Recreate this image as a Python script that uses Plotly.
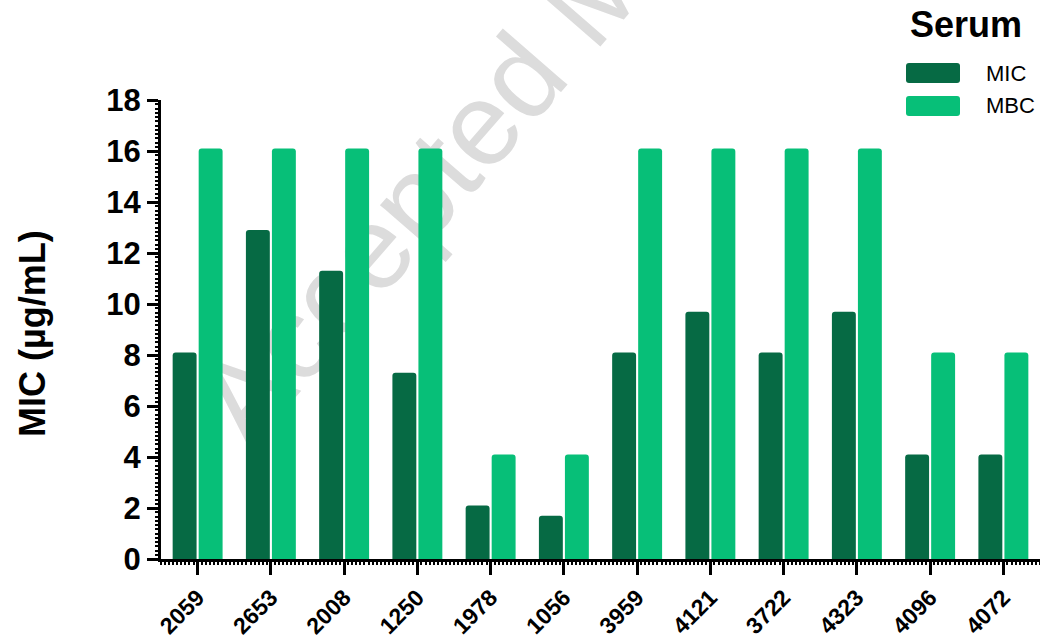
import plotly.graph_objects as go

strains = ["2059", "2653", "2008", "1250", "1978", "1056", "3959", "4121", "3722", "4323", "4096", "4072"]
mic = [8.1, 12.9, 11.3, 7.3, 2.1, 1.7, 8.1, 9.7, 8.1, 9.7, 4.1, 4.1]
mbc = [16.1, 16.1, 16.1, 16.1, 4.1, 4.1, 16.1, 16.1, 16.1, 16.1, 8.1, 8.1]
series_names = ["MIC", "MBC"]
colors = ["#066A44", "#07BF78"]
y_ticks = [0, 2, 4, 6, 8, 10, 12, 14, 16, 18]

W, H = 1040, 642
L, R, T, B = 161, 0, 100, 83
PW, PH = W - L - R, H - T - B


def px(x):
    return (x - L) / PW


def py(y):
    return (H - B - y) / PH


xpos = list(range(len(strains)))

fig = go.Figure()
for name, vals, col in zip(series_names, [mic, mbc], colors):
    fig.add_trace(go.Bar(
        x=xpos, y=vals, name=name, marker=dict(color=col, line=dict(width=0), cornerradius=3),
        showlegend=False,
    ))

FONT = "Liberation Sans, Arial, sans-serif"

fig.update_layout(
    width=W, height=H,
    margin=dict(l=L, r=R, t=T, b=B, autoexpand=False),
    paper_bgcolor="white", plot_bgcolor="white",
    barmode="group", bargap=0.29, bargroupgap=0.08,
    font=dict(family=FONT, color="black"),
)

fig.update_xaxes(
    range=[-0.5, len(strains) - 0.5],
    tickmode="array", tickvals=xpos, ticktext=strains,
    tickangle=-45,
    tickfont=dict(size=23, family=FONT, weight="bold"),
    ticks="outside", ticklen=13, tickwidth=3, tickcolor="black",
    showline=True, linewidth=3, linecolor="black",
    showgrid=False, zeroline=False,
    minor=dict(dtick=1/18, tick0=0, ticks="outside", ticklen=3, tickwidth=1.5, tickcolor="black", showgrid=False),
    automargin=False,
)
fig.update_yaxes(
    range=[0, 18],
    tickmode="array", tickvals=y_ticks,
    tickfont=dict(size=31, family=FONT, weight="bold"),
    ticks="outside", ticklen=11, tickwidth=3, tickcolor="black",
    showline=True, linewidth=3, linecolor="black",
    showgrid=False, zeroline=False,
    minor=dict(dtick=1/6, tick0=0, ticks="outside", ticklen=3, tickwidth=1.5, tickcolor="black", showgrid=False),
    automargin=False,
)

# Y axis title
fig.add_annotation(
    text="MIC (\u00b5g/mL)", xref="paper", yref="paper",
    x=px(32), y=py(334), showarrow=False, textangle=-90,
    font=dict(size=36, family=FONT, weight="bold", color="black"),
    xanchor="center", yanchor="middle",
)

# Watermark (behind bars)
cx, cy = px(572), py(0)
fig.add_shape(
    type="rect", xref="paper", yref="paper",
    x0=cx - 0.0005, x1=cx + 0.0005, y0=cy - 0.0005, y1=cy + 0.0005,
    line=dict(width=0), fillcolor="rgba(0,0,0,0)", layer="below",
    label=dict(text="Accepted Manuscript", textangle=-49, textposition="middle center",
               font=dict(size=118, family=FONT, color="#dcdcdc")),
)

# Legend
fig.add_annotation(
    text="Serum", xref="paper", yref="paper", x=px(966), y=py(25), showarrow=False,
    font=dict(size=36, family=FONT, weight="bold", color="black"), xanchor="center", yanchor="middle",
)
for i, (name, col) in enumerate(zip(series_names, colors)):
    yc = 73 + i * 33
    fig.add_shape(
        type="path", xref="paper", yref="paper",
        path=(f"M {px(909)},{py(yc - 10)} L {px(957)},{py(yc - 10)} "
              f"Q {px(960)},{py(yc - 10)} {px(960)},{py(yc - 7)} L {px(960)},{py(yc + 7)} "
              f"Q {px(960)},{py(yc + 10)} {px(957)},{py(yc + 10)} L {px(909)},{py(yc + 10)} "
              f"Q {px(906)},{py(yc + 10)} {px(906)},{py(yc + 7)} L {px(906)},{py(yc - 7)} "
              f"Q {px(906)},{py(yc - 10)} {px(909)},{py(yc - 10)} Z"),
        line=dict(width=0), fillcolor=col,
    )
    fig.add_annotation(
        text=name, xref="paper", yref="paper", x=px(984), y=py(yc), showarrow=False,
        font=dict(size=22, family=FONT, color="black"), xanchor="left", yanchor="middle",
    )

fig.write_html("out.html")
